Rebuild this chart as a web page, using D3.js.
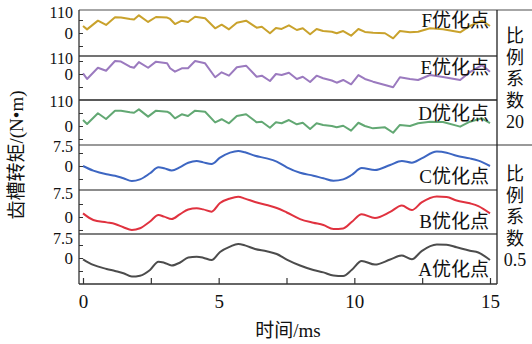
<!DOCTYPE html>
<html>
<head>
<meta charset="utf-8">
<script src="https://cdn.jsdelivr.net/npm/d3@7"></script>
<style>
  body { margin: 0; background: #fff; }
  svg { display: block; }
  text { font-family: "Liberation Serif", "Noto Sans CJK SC", serif; fill: #111; }
</style>
</head>
<body>
<svg id="chart"></svg>
<script>
// time (ms) of the corner points of the jagged curves (ratio 20)
var timeJag = [0, 0.15, 0.55, 0.85, 1.18, 1.40, 1.73, 1.88, 2.06, 2.40, 2.69, 3.10, 3.21, 3.39, 3.64,
    3.87, 4.13, 4.50, 4.87, 5.11, 5.38, 5.67, 6.01, 6.40, 6.59, 6.89, 7.11, 7.32, 7.59, 7.88,
    8.10, 8.37, 8.61, 8.85, 9.17, 9.35, 9.59, 9.88, 10.15, 10.39, 10.69, 11.13, 11.43, 11.68, 12.05,
    12.35, 12.79, 13.27, 13.90, 14.26, 14.70, 15.0]
var valF = [5.4, 2.8, 9.5, 6.2, 12.1, 11.9, 10.8, 10.4, 13.6, 8.5, 12.3, 11.9, 10.8, 6.9, 9.5,
    8.5, 12.5, 11.3, 3.6, 6.4, 2.8, 7.9, 9.5, 4.1, 4.8, -0.2, 3.8, 3.1, 5.9, 2.3,
    3.6, -1.0, 3.1, 1.5, 1.0, -0.2, 1.5, -2.1, 3.1, 0.8, 0.2, -0.2, -4.1, 1.5, 0.5,
    1.0, 3.6, 2.8, 0.5, 5.4, 9.5, 5.4]
var valE = [0.5, -3.8, 4.8, 2.5, 10.0, 9.6, 5.6, 4.8, 9.2, 4.8, 9.5, 8.2, 4.4, 1.8, 4.4,
    4.4, 10.0, 8.2, -2.5, 1.3, -1.3, 5.2, 6.4, -2.1, -1.3, -5.4, 0, -0.8, 1.0, -3.8,
    -2.1, -6.2, -1.3, -3.3, -5.0, -6.7, -4.6, -7.9, -0.8, -3.8, -5.9, -8.5, -10.2, -2.5, -3.8,
    -4.6, -0.8, -2.3, -4.6, 1.5, 6.9, 1.8]
var valD = [4.6, 1.5, 9.8, 5.4, 11.8, 11.8, 10.5, 10.2, 12.8, 7.2, 11.8, 11.0, 9.8, 5.9, 9.0,
    7.7, 11.8, 11.0, 2.8, 5.2, 2.1, 7.7, 9.0, 2.8, 3.3, -1.3, 2.8, 2.1, 4.6, 1.3,
    2.5, -2.3, 2.1, 0.8, 0, -1.0, 0.2, -3.6, 2.5, 0, -1.8, -1.0, -5.2, 0.8, 0,
    2.1, 3.3, 3.1, -0.5, 3.3, 5.9, 2.3]

// time (ms) of the sample points of the smooth curves (ratio 0.5)
var timeSmooth = [0, 0.38, 0.87, 1.18, 1.49, 1.80, 2.10, 2.47, 2.78, 2.99, 3.27, 3.58, 3.88, 4.19, 4.43,
    4.74, 5.05, 5.42, 5.72, 5.97, 6.34, 6.77, 7.14, 7.51, 8.00, 8.49, 8.86, 9.23, 9.59, 9.90,
    10.27, 10.76, 11.32, 11.75, 12.12, 12.48, 13.04, 13.40, 13.77, 14.26, 14.57, 15.00]
var valC = [0, -2.7, -4.8, -5.6, -7.1, -8.7, -7.7, -4.2, -0.75, -1.3, -2.6, -0.6, 1.9, 2.9, 2.1,
    1.2, 4.8, 7.7, 8.7, 7.9, 5.9, 4.4, 2.5, -0.75, -3.9, -5.6, -7.1, -8.5, -7.7, -5.2,
    -1.2, -2.3, 0.6, 2.9, 1.9, 4.4, 8.3, 7.7, 5.9, 4.4, 3.1, 0]
var valB = [2.1, -1.7, -3.1, -4.0, -5.9, -7.5, -6.5, -2.6, 1.2, 0.2, -1.2, 1.7, 4.3, 5.0, 4.4,
    3.1, 8.1, 10.7, 11.7, 10.6, 8.7, 6.9, 5.2, 2.6, -1.2, -3.3, -4.6, -6.9, -6.6, -2.9,
    1.6, -0.6, 2.9, 6.6, 4.0, 8.4, 11.8, 11.5, 9.5, 7.9, 6.3, 2.1]
var valA = [-0.75, -4.0, -6.3, -7.5, -8.8, -10.7, -10.2, -6.9, -2.1, -2.7, -4.3, -2.6, 0.3, 0.75, 0.2,
    -1.2, 3.5, 6.6, 8.1, 7.3, 5.2, 3.9, 2.3, -0.9, -4.3, -6.9, -8.3, -10.1, -10.4, -6.9,
    -1.7, -3.8, -0.9, 1.4, -0.75, 4.0, 7.8, 7.7, 6.2, 4.2, 3.2, -1.2]

var panelNames = ["F优化点", "E优化点", "D优化点", "C优化点", "B优化点", "A优化点"]
var topTickLabels = ["110", "110", "110", "7.5", "7.5", "7.5"]
var xTicks = [0, 2.5, 5, 7.5, 10, 12.5, 15]
var groupLabels = [["比", "例", "系", "数", "20"], ["比", "例", "系", "数", "0.5"]]

var dimensions = {
    width: 532,
    height: 344,
    left: 79,
    right: 497,
    top: 10,
    bottom: 284
}

var svg = d3.select("#chart")
    .attr("width", dimensions.width)
    .attr("height", dimensions.height)

var xScale = d3.scaleLinear()
    .domain([0, 15])
    .range([83, 490])

var panels = [
    { name: panelNames[0], time: timeJag, values: valF, color: "#c9a22c", top: 10, bottom: 56, zero: 33, unit: 1.3, tick: 10, topLabel: topTickLabels[0], tl: 2, lab: 17, sep: "#888" },
    { name: panelNames[1], time: timeJag, values: valE, color: "#9b7abf", top: 56, bottom: 100, zero: 74, unit: 1.3, tick: 10, topLabel: topTickLabels[1], tl: 2, lab: 18, sep: "#444" },
    { name: panelNames[2], time: timeJag, values: valD, color: "#62a873", top: 100, bottom: 145, zero: 126, unit: 1.3, tick: 10, topLabel: topTickLabels[2], tl: 1, lab: 20, sep: "#222" },
    { name: panelNames[3], time: timeSmooth, values: valC, color: "#3d66c2", top: 145, bottom: 190, zero: 166, unit: 1.733, tick: 7.5, topLabel: topTickLabels[3], tl: 1, lab: -7, sep: "#777", smooth: true },
    { name: panelNames[4], time: timeSmooth, values: valB, color: "#e0323f", top: 190, bottom: 234, zero: 217, unit: 1.733, tick: 7.5, topLabel: topTickLabels[4], tl: 3, lab: -6, sep: "#666", smooth: true },
    { name: panelNames[5], time: timeSmooth, values: valA, color: "#4c4c4c", top: 234, bottom: 284, zero: 258, unit: 1.733, tick: 7.5, topLabel: topTickLabels[5], tl: 4, lab: -8, sep: "#555", smooth: true }
]

panels.forEach(function (p, k) {
    var yScale = d3.scaleLinear()
        .domain([-(p.bottom - p.zero) / p.unit, (p.zero - p.top) / p.unit])
        .range([p.bottom, p.top])

    // separator line on top of the panel
    svg.append("line")
        .attr("x1", dimensions.left)
        .attr("x2", (k === 0 || k === 3) ? dimensions.width : dimensions.right)
        .attr("y1", p.top).attr("y2", p.top)
        .attr("stroke", p.sep)
        .attr("stroke-width", 1.3)

    var lineGen = d3.line()
        .x((d, i) => xScale(p.time[i]))
        .y(d => yScale(d))
        .curve(p.smooth ? d3.curveMonotoneX : d3.curveLinear)

    svg.append("path")
        .datum(p.values)
        .attr("d", lineGen)
        .attr("fill", "none")
        .attr("stroke", p.color)
        .attr("stroke-width", 2)
        .attr("stroke-linejoin", "round")

    var yAxisGen = d3.axisLeft(yScale)
        .tickValues([p.tick, 0, -p.tick])
        .tickFormat(d => d === 0 ? "0" : "")
        .tickSize(-4)
        .tickPadding(6)
    var yAxis = svg.append("g")
        .attr("transform", `translate(${dimensions.left},0)`)
        .call(yAxisGen)
    yAxis.select(".domain").remove()
    yAxis.selectAll("line").attr("stroke", "#333")
    yAxis.selectAll("text").attr("font-size", 17).attr("font-family", null).attr("fill", "#111")

    // label of the upper tick, drawn right at the panel top
    svg.append("text")
        .attr("x", dimensions.left - 6)
        .attr("y", p.top + p.tl)
        .attr("dy", "0.35em")
        .attr("text-anchor", "end")
        .attr("font-size", 16)
        .text(p.topLabel)

    svg.append("text")
        .attr("x", 489)
        .attr("y", p.lab > 0 ? p.top + p.lab : p.bottom + p.lab)
        .attr("text-anchor", "end")
        .attr("font-size", 19)
        .text(p.name)
})

// frame
svg.append("line")
    .attr("x1", dimensions.left).attr("x2", dimensions.left)
    .attr("y1", dimensions.top).attr("y2", dimensions.bottom)
    .attr("stroke", "#333").attr("stroke-width", 1.3)
svg.append("line")
    .attr("x1", dimensions.right).attr("x2", dimensions.right)
    .attr("y1", dimensions.top).attr("y2", dimensions.bottom)
    .attr("stroke", "#222").attr("stroke-width", 1.3)
svg.append("line")
    .attr("x1", dimensions.left).attr("x2", dimensions.right)
    .attr("y1", dimensions.bottom).attr("y2", dimensions.bottom)
    .attr("stroke", "#333").attr("stroke-width", 1.3)

var xAxisGen = d3.axisBottom(xScale)
    .tickValues(xTicks)
    .tickFormat(d => d % 5 === 0 ? d : "")
    .tickSize(-6)
    .tickSizeOuter(0)
    .tickPadding(11)
var xAxis = svg.append("g")
    .attr("transform", `translate(0,${dimensions.bottom})`)
    .call(xAxisGen)
xAxis.select(".domain").remove()
xAxis.selectAll("line").attr("stroke", "#333").attr("stroke-width", 1.2)
xAxis.selectAll("text").attr("font-size", 19).attr("font-family", null).attr("fill", "#111")

svg.append("text")
    .attr("x", 288)
    .attr("y", 337)
    .attr("text-anchor", "middle")
    .attr("font-size", 19)
    .text("时间/ms")

// y axis title
svg.append("text")
    .attr("transform", "translate(23,155) rotate(-90)")
    .attr("text-anchor", "middle")
    .attr("font-size", 19)
    .text("齿槽转矩/(N•m)")

// ratio labels in the right column
var groupStarts = [36, 174]
groupLabels.forEach(function (chars, g) {
    svg.append("g")
        .selectAll("text")
        .data(chars)
        .enter()
        .append("text")
        .attr("x", 515)
        .attr("y", (d, i) => groupStarts[g] + i * 21.4)
        .attr("dy", "0.36em")
        .attr("text-anchor", "middle")
        .attr("font-size", 18)
        .text(d => d)
})
</script>
</body>
</html>
